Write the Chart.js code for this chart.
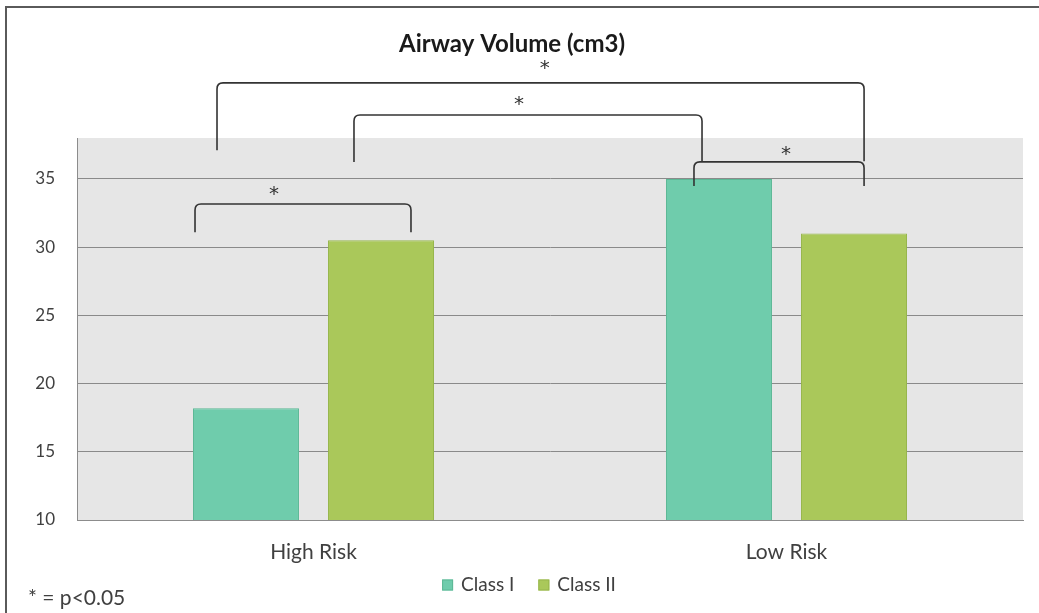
<!DOCTYPE html>
<html>
<head>
<meta charset="utf-8">
<script src="https://cdn.jsdelivr.net/npm/chart.js@4.4.1/dist/chart.umd.min.js"></script>
<style>
  html, body { margin: 0; padding: 0; background: #ffffff; }
  #wrap { width: 1039px; height: 613px; }
</style>
</head>
<body>
<div id="wrap"><canvas id="c" width="1039" height="613"></canvas></div>
<script>
// ---- data ----
const categories = ["High Risk", "Low Risk"];
const classI = [18.2, 35.0];
const classII = [30.5, 31.0];
const seriesNames = ["Class I", "Class II"];
const yTicks = [10, 15, 20, 25, 30, 35];
const titleText = "Airway Volume (cm3)";
const footnote = "* = p<0.05";
// significance brackets in data units (category index, value)
const bracketFromX = [-0.2505, -0.204, 0.0856, 0.8044];
const bracketToX = [0.2061, 1.164, 0.8214, 1.164];
const bracketTopY = [33.16, 42.04, 39.69, 36.25];
const bracketFromEndY = [31.1, 37.1, 36.25, 34.49];
const bracketToEndY = [31.1, 36.3, 36.3, 34.49];
const starX = [-0.0835, 0.489, 0.4345, 0.999];
const starY = [34.12, 43.36, 40.72, 37.05];

const FONT = "Lato, 'Open Sans', sans-serif";
const colors = ["#6FCCAC", "#AAC85A"];
const borders = ["#5DB896", "#97B64C"];

const decor = {
  id: 'decor',
  beforeDraw(chart) {
    const ctx = chart.ctx, a = chart.chartArea;
    ctx.save();
    ctx.fillStyle = '#ffffff';
    ctx.fillRect(0, 0, chart.width, chart.height);
    ctx.fillStyle = '#E6E6E6';
    ctx.fillRect(a.left, a.top, a.right - a.left, a.bottom - a.top);
    // outer frame
    ctx.strokeStyle = '#5a5a5a';
    ctx.lineWidth = 2;
    ctx.strokeRect(6, 7, chart.width + 20, chart.height + 20);
    ctx.restore();
  },
  afterDraw(chart) {
    const ctx = chart.ctx;
    const xs = chart.scales.x, ys = chart.scales.y;
    ctx.save();
    // title
    ctx.fillStyle = '#1a1a1a';
    ctx.font = "bold 24px " + FONT;
    ctx.textAlign = 'center';
    ctx.textBaseline = 'middle';
    ctx.fillText(titleText, 512, 44);
    // brackets
    ctx.strokeStyle = '#333333';
    ctx.lineWidth = 1.6;
    const r = 6;
    for (let i = 0; i < bracketFromX.length; i++) {
      const x1 = xs.getPixelForValue(bracketFromX[i]);
      const x2 = xs.getPixelForValue(bracketToX[i]);
      const yt = ys.getPixelForValue(bracketTopY[i]);
      const y1 = ys.getPixelForValue(bracketFromEndY[i]);
      const y2 = ys.getPixelForValue(bracketToEndY[i]);
      ctx.beginPath();
      ctx.moveTo(x1, y1);
      ctx.lineTo(x1, yt + r);
      ctx.quadraticCurveTo(x1, yt, x1 + r, yt);
      ctx.lineTo(x2 - r, yt);
      ctx.quadraticCurveTo(x2, yt, x2, yt + r);
      ctx.lineTo(x2, y2);
      ctx.stroke();
    }
    // stars
    ctx.fillStyle = '#333333';
    ctx.font = "20px 'DejaVu Sans', sans-serif";
    ctx.textAlign = 'center';
    ctx.textBaseline = 'middle';
    for (let i = 0; i < starX.length; i++) {
      ctx.fillText('*', xs.getPixelForValue(starX[i]), ys.getPixelForValue(starY[i]) + 4);
    }
    // legend
    ctx.font = "19px " + FONT;
    ctx.textAlign = 'left';
    ctx.textBaseline = 'middle';
    const box = 11, gap = 8, sep = 24;
    const widths = seriesNames.map(n => box + gap + ctx.measureText(n).width);
    const total = widths.reduce((s, w) => s + w, 0) + sep * (seriesNames.length - 1);
    let lx = 529 - total / 2;
    const ly = 585;
    seriesNames.forEach((n, i) => {
      ctx.fillStyle = colors[i];
      ctx.fillRect(lx, ly - box / 2, box, box);
      ctx.strokeStyle = borders[i];
      ctx.lineWidth = 1;
      ctx.strokeRect(lx + 0.5, ly - box / 2 + 0.5, box - 1, box - 1);
      ctx.fillStyle = '#404040';
      ctx.fillText(n, lx + box + gap, ly);
      lx += widths[i] + sep;
    });
    // footnote
    ctx.fillStyle = '#404040';
    ctx.font = "21px " + FONT;
    ctx.fillText(footnote, 28, 598);
    ctx.restore();
  }
};

new Chart(document.getElementById('c'), {
  type: 'bar',
  data: {
    labels: categories,
    datasets: [
      { label: seriesNames[0], data: classI, backgroundColor: colors[0], borderColor: borders[0], borderWidth: 1 },
      { label: seriesNames[1], data: classII, backgroundColor: colors[1], borderColor: borders[1], borderWidth: 1 }
    ]
  },
  options: {
    responsive: false,
    animation: false,
    devicePixelRatio: 1,
    layout: { padding: { left: 0, right: 16, top: 138, bottom: 0 } },
    datasets: { bar: { categoryPercentage: 0.571, barPercentage: 0.785 } },
    plugins: { legend: { display: false }, title: { display: false }, tooltip: { enabled: false } },
    scales: {
      x: {
        grid: { display: false, drawTicks: false },
        border: { display: true, color: '#8c8c8c', width: 1 },
        ticks: { font: { family: FONT, size: 21 }, color: '#404040', padding: 20 },
        afterFit(s) { s.height = 93; }
      },
      y: {
        min: 10, max: 38,
        grid: { color: '#8a8a8a', lineWidth: 1, drawTicks: false },
        border: { display: true, color: '#8c8c8c', width: 1 },
        ticks: { stepSize: 5, font: { family: FONT, size: 17 }, color: '#404040', padding: 22 },
        afterBuildTicks(s) { s.ticks = yTicks.map(v => ({ value: v })); },
        afterFit(s) { s.width = 77; }
      }
    }
  },
  plugins: [decor]
});
</script>
</body>
</html>
